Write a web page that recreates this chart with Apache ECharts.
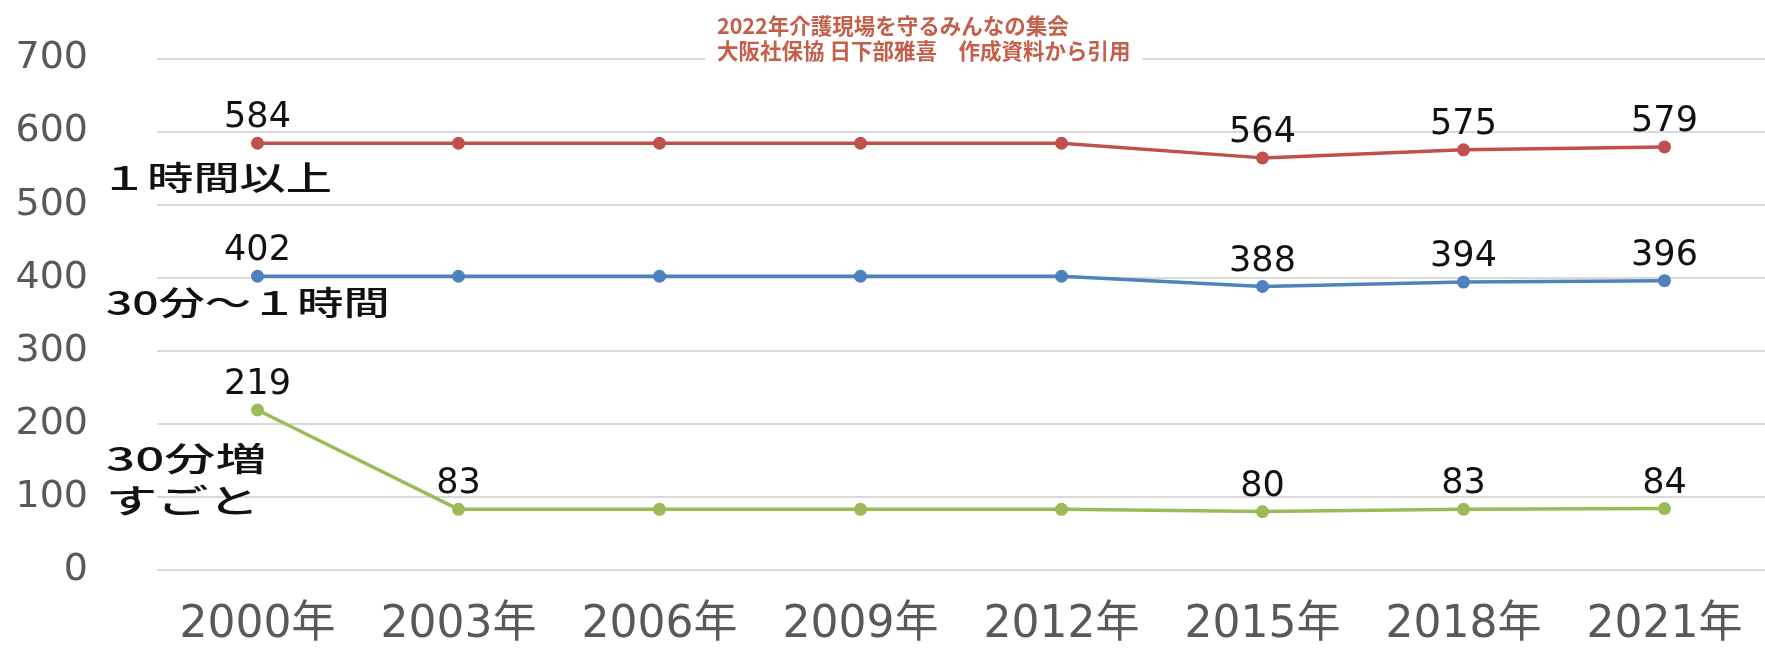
<!DOCTYPE html>
<html>
<head>
<meta charset="utf-8">
<script src="https://cdn.jsdelivr.net/npm/echarts@6/dist/echarts.min.js"></script>
<style>html,body{margin:0;padding:0;background:#fff}#c{width:1765px;height:648px}</style>
</head>
<body>
<div id="c"></div>
<script>
const categories = ['2000年','2003年','2006年','2009年','2012年','2015年','2018年','2021年'];
const over1h = [584, 584, 584, 584, 584, 564, 575, 579];
const min30to1h = [402, 402, 402, 402, 402, 388, 394, 396];
const per30min = [219, 83, 83, 83, 83, 80, 83, 84];
const seriesNames = ['１時間以上', '30分～１時間', '30分増\nすごと'];
const yTicks = [0, 100, 200, 300, 400, 500, 600, 700];
const titleLines = ['2022年介護現場を守るみんなの集会', '大阪社保協 日下部雅喜　作成資料から引用'];
// which points carry a value label in the original
const labelledRedBlue = [0, 5, 6, 7];
const labelledGreen = [0, 1, 5, 6, 7];

const chart = echarts.init(document.getElementById('c'));
const lbl = {
  show: true, position: 'top', distance: 1,
  color: '#111', fontSize: 35, fontFamily: 'DejaVu Sans'
};
const withLabels = (arr, idx) => arr.map((v, i) => ({ value: v, label: { show: idx.indexOf(i) >= 0 } }));
const ann = (text, x, y, sx) => ({
  type: 'text', left: x, top: y, z: 50, scaleX: sx,
  style: { text: text, fill: '#111', font: '500 33px "Noto Sans CJK JP"', lineHeight: 42 }
});
chart.setOption({
  animation: false,
  backgroundColor: '#fff',
  title: {
    text: titleLines.join('\n'),
    left: 705, top: 9,
    padding: [4, 12, 8, 12],
    backgroundColor: '#fff',
    textStyle: { color: '#c55f4a', fontSize: 21.5, fontWeight: 'bold', lineHeight: 25, fontFamily: 'Noto Sans CJK JP' }
  },
  grid: { left: 157, top: 58.5, width: 1621, height: 521 },
  xAxis: {
    type: 'category', data: categories, boundaryGap: true,
    axisLine: { show: false }, axisTick: { show: false },
    axisLabel: { color: '#595959', fontSize: 44, fontFamily: 'DejaVu Sans, Noto Sans CJK JP', margin: 34, interval: 0 }
  },
  yAxis: {
    type: 'value', min: yTicks[0], max: yTicks[yTicks.length - 1], interval: 100,
    axisLine: { show: false }, axisTick: { show: false },
    axisLabel: { color: '#595959', fontSize: 38, fontFamily: 'DejaVu Sans', margin: 69 },
    splitLine: { lineStyle: { color: '#d9d9d9', width: 2 } }
  },
  series: [
    { name: seriesNames[0], type: 'line', data: withLabels(over1h, labelledRedBlue), symbol: 'circle', symbolSize: 13,
      itemStyle: { color: '#c0504d' }, lineStyle: { width: 3.5, color: '#c0504d' }, label: lbl },
    { name: seriesNames[1], type: 'line', data: withLabels(min30to1h, labelledRedBlue), symbol: 'circle', symbolSize: 13,
      itemStyle: { color: '#4f81bd' }, lineStyle: { width: 3.5, color: '#4f81bd' }, label: lbl },
    { name: seriesNames[2], type: 'line', data: withLabels(per30min, labelledGreen), symbol: 'circle', symbolSize: 13,
      itemStyle: { color: '#9bbb59' }, lineStyle: { width: 3.5, color: '#9bbb59' }, label: lbl }
  ],
  graphic: [
    ann(seriesNames[0], 101, 156, 1.4),
    ann(seriesNames[1], 106, 281, 1.4),
    ann(seriesNames[2], 106, 437, 1.55)
  ]
});
</script>
</body>
</html>
